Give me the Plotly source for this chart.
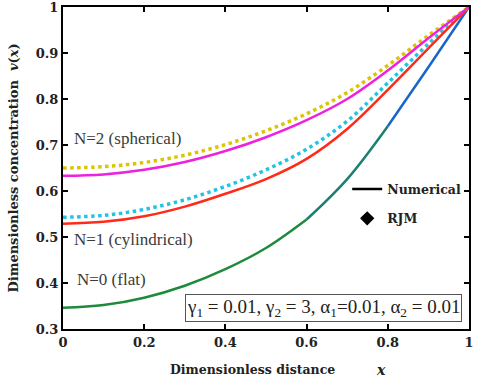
import plotly.graph_objects as go

# dimensionless distance
x = [0, 0.1, 0.2, 0.3, 0.4, 0.5, 0.6, 0.7, 0.8, 0.9, 1.0]

# numerical solutions
v_flat = [0.346, 0.352, 0.368, 0.394, 0.430, 0.476, 0.538, 0.626, 0.741, 0.869, 1.0]
v_cyl_num = [0.529, 0.533, 0.545, 0.566, 0.594, 0.626, 0.670, 0.735, 0.820, 0.910, 1.0]
v_sph_num = [0.633, 0.636, 0.646, 0.663, 0.687, 0.717, 0.754, 0.800, 0.862, 0.932, 1.0]

# RJM (dotted)
v_cyl_rjm = [0.543, 0.547, 0.560, 0.581, 0.610, 0.646, 0.691, 0.752, 0.835, 0.920, 1.0]
v_sph_rjm = [0.650, 0.653, 0.662, 0.678, 0.701, 0.731, 0.768, 0.814, 0.873, 0.938, 1.0]

SERIF = "Liberation Serif"
BOLD_SERIF = "DejaVu Serif"

fig = go.Figure()

# flat curve drawn in pieces to mimic the green -> blue fade
flat_parts = [(0, 7, "#1e8a3c"), (6, 9, "#1b7f72"), (8, 11, "#1a66c8")]
for a, b, col in flat_parts:
    fig.add_trace(go.Scatter(x=x[a:b], y=v_flat[a:b], mode="lines",
                             line=dict(color=col, width=2.5, shape="spline"),
                             showlegend=False))

fig.add_trace(go.Scatter(x=x, y=v_cyl_rjm, mode="lines",
                         line=dict(color="#22c4e6", width=3.5, dash="dot", shape="spline"),
                         showlegend=False))
fig.add_trace(go.Scatter(x=x, y=v_cyl_num, mode="lines",
                         line=dict(color="#ff2a18", width=2.5, shape="spline"),
                         showlegend=False))
fig.add_trace(go.Scatter(x=x, y=v_sph_rjm, mode="lines",
                         line=dict(color="#dcc400", width=3.5, dash="dot", shape="spline"),
                         showlegend=False))
fig.add_trace(go.Scatter(x=x, y=v_sph_num, mode="lines",
                         line=dict(color="#ee22dd", width=2.5, shape="spline"),
                         showlegend=False))

# legend entries
fig.add_trace(go.Scatter(x=[None], y=[None], mode="lines", name="Numerical",
                         legendgroup="num", line=dict(color="black", width=2.5)))
fig.add_trace(go.Scatter(x=[None], y=[None], mode="markers", name="RJM",
                         legendgroup="rjm", marker=dict(color="black", symbol="diamond", size=11)))

labels = [
    ("N=2 (spherical)", 0.022, 0.715),
    ("N=1 (cylindrical)", 0.022, 0.495),
    ("N=0 (flat)", 0.030, 0.408),
]
for txt, lx, ly in labels:
    fig.add_annotation(x=lx, y=ly, text=txt, showarrow=False, xanchor="left",
                       font=dict(family=SERIF, size=17, color="#3a3a3a"))

fig.add_annotation(
    x=0.983, y=0.345, xanchor="right", yanchor="middle",
    text="γ<sub>1</sub> = 0.01, γ<sub>2</sub> = 3, α<sub>1</sub>=0.01, α<sub>2</sub> = 0.01",
    showarrow=False, bordercolor="#555555", borderwidth=1, borderpad=1,
    bgcolor="white", font=dict(family=SERIF, size=19, color="#222222"))

# x-axis title, split so the italic x sits apart as in the original
fig.add_annotation(x=0.466, y=-0.127, xref="paper", yref="paper", showarrow=False,
                   yanchor="middle", text="Dimensionless distance",
                   font=dict(family=BOLD_SERIF, size=12.5, color="#222222", weight="bold"))
fig.add_annotation(x=0.80, y=-0.127, xref="paper", yref="paper", showarrow=False,
                   yanchor="middle", text="<i>x</i>",
                   font=dict(family=BOLD_SERIF, size=14, color="#222222", weight="bold"))

axis_common = dict(
    showline=True, linecolor="black", linewidth=2, mirror="ticks",
    ticks="inside", ticklen=5, tickwidth=1.5, tickcolor="black",
    showgrid=False, zeroline=False, automargin=False, ticklabeloverflow="allow",
    tickfont=dict(family=BOLD_SERIF, size=13, color="#222222", weight="bold"),
)

fig.update_layout(
    width=480, height=384,
    margin=dict(l=63, r=11, t=7, b=55),
    paper_bgcolor="white", plot_bgcolor="white",
    xaxis=dict(range=[0, 1.0001], tickvals=[0, 0.2, 0.4, 0.6, 0.8, 1],
               ticktext=["0", "0.2", "0.4", "0.6", "0.8", "1"],
               **axis_common),
    yaxis=dict(range=[0.3, 1.0001], tickvals=[0.3, 0.4, 0.5, 0.6, 0.7, 0.8, 0.9, 1],
               ticktext=["0.3", "0.4", "0.5", "0.6", "0.7", "0.8", "0.9", "1"],
               title=dict(text="Dimensionless concentration  <i>v</i>(<i>x</i>)",
                          font=dict(family=BOLD_SERIF, size=13, color="#222222", weight="bold"),
                          standoff=14),
               **axis_common),
    legend=dict(x=0.7, y=0.48, xanchor="left", yanchor="top",
                bgcolor="rgba(0,0,0,0)",
                font=dict(family=BOLD_SERIF, size=12.5, color="#222222", weight="bold"),
                itemwidth=30, tracegroupgap=10),
    showlegend=True,
)

fig.write_html("out.html", config={"displayModeBar": False},
               post_script="document.body.style.margin='0';")
